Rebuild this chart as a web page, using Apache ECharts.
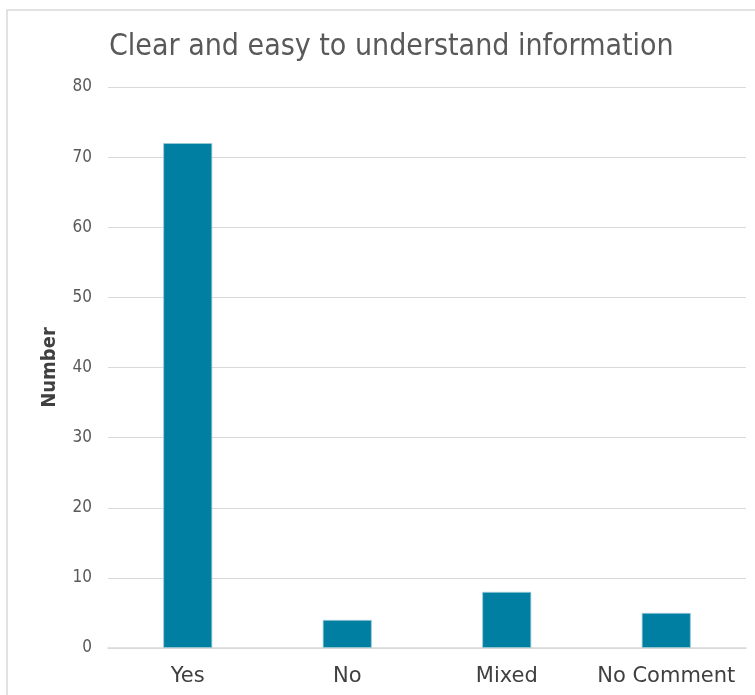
<!DOCTYPE html>
<html>
<head>
<meta charset="utf-8">
<script src="https://cdn.jsdelivr.net/npm/echarts@6/dist/echarts.min.js"></script>
<style>
  html, body { margin: 0; padding: 0; background: #fff; }
  #chart { width: 755px; height: 695px; }
</style>
</head>
<body>
<div id="chart"></div>
<script>
const categories = ['Yes', 'No', 'Mixed', 'No Comment'];
const counts = [72, 4, 8, 5];
const yTicks = [0, 10, 20, 30, 40, 50, 60, 70, 80];

const chart = echarts.init(document.getElementById('chart'));
const fontName = '"DejaVu Sans Condensed", "DejaVu Sans", sans-serif';

const option = {
  backgroundColor: '#fff',
  animation: false,
  title: {
    text: 'Clear and easy to understand information',
    left: 104,
    top: 27,
    textStyle: { color: '#595959', fontSize: 30, fontWeight: 'normal', fontFamily: fontName }
  },
  // frame of the chart area, cut off at right/bottom like the source screenshot
  graphic: [{
    type: 'polyline',
    shape: { points: [[7, 695], [7, 10], [755, 10]] },
    style: { stroke: '#d9d9d9', lineWidth: 1.5, fill: null }
  }],
  grid: { left: 108, right: 9, top: 87, bottom: 47 },
  xAxis: {
    type: 'category',
    data: categories,
    axisTick: { show: false },
    axisLine: { lineStyle: { color: '#d9d9d9', width: 1.5 } },
    axisLabel: { interval: 0, color: '#404040', fontSize: 21, fontFamily: '"DejaVu Sans", sans-serif', margin: 18 }
  },
  yAxis: {
    type: 'value',
    min: yTicks[0],
    max: yTicks[yTicks.length - 1],
    interval: 10,
    name: 'Number',
    nameLocation: 'middle',
    nameGap: 48,
    nameTextStyle: { color: '#404040', fontSize: 20, fontWeight: 'bold', fontFamily: fontName },
    axisLine: { show: false },
    axisTick: { show: false },
    axisLabel: { color: '#595959', fontSize: 17, fontFamily: fontName, margin: 16 },
    splitLine: { lineStyle: { color: '#d9d9d9', width: 1.2 } }
  },
  series: [{
    type: 'bar',
    data: counts,
    barWidth: 49,
    itemStyle: { color: '#007fa3', borderColor: '#9cc9d8', borderWidth: 0.8 }
  }]
};

chart.setOption(option);
</script>
</body>
</html>
